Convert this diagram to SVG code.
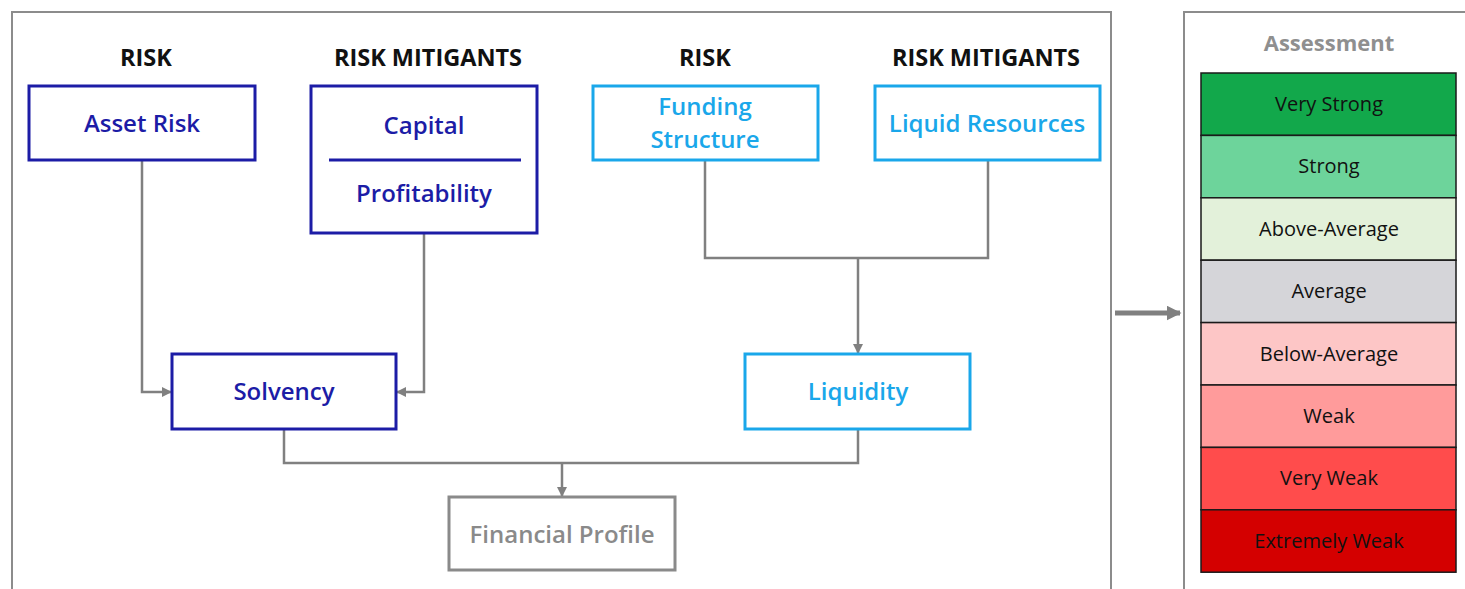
<svg xmlns="http://www.w3.org/2000/svg" width="1465" height="589" viewBox="0 0 1465 589">
  <style>
    text { font-family: "Open Sans", "Noto Sans", "Liberation Sans", sans-serif; text-anchor: middle; }
    .panel { fill: #ffffff; stroke: #8c8c8c; stroke-width: 2; }
    .hdr { font-size: 23.5px; font-weight: 700; fill: #111111; }
    .dark rect, .dark line { fill: #ffffff; stroke: #1c1ca6; stroke-width: 3; }
    .dark text { fill: #1c1ca6; font-size: 24px; font-weight: 600; }
    .light rect { fill: #ffffff; stroke: #1aa7ea; stroke-width: 3; }
    .light text { fill: #1aa7ea; font-size: 24px; font-weight: 600; }
    .grey rect { fill: #ffffff; stroke: #8a8a8a; stroke-width: 3; }
    .grey text { fill: #8a8a8a; font-size: 24px; font-weight: 600; }
    .wire { fill: none; stroke: #808080; stroke-width: 2.5; }
    .scale rect { stroke: #1a1a1a; stroke-width: 1.5; }
    .scale text { font-size: 20px; font-weight: 500; fill: #111111; }
  </style>
  <defs>
    <marker id="tip" viewBox="0 0 10 10" refX="9" refY="5" markerWidth="4" markerHeight="4" orient="auto" markerUnits="strokeWidth">
      <path d="M0,0 L10,5 L0,10 z" fill="#808080"/>
    </marker>
    <marker id="bigtip" viewBox="0 0 10 10" refX="9" refY="5" markerWidth="3" markerHeight="3" orient="auto" markerUnits="strokeWidth">
      <path d="M0,0 L10,5 L0,10 z" fill="#808080"/>
    </marker>
  </defs>

  <rect width="1465" height="589" fill="#ffffff"/>

  <!-- frames -->
  <rect class="panel" x="12" y="12" width="1099" height="590"/>
  <rect class="panel" x="1184" y="12" width="290" height="590"/>

  <!-- column headings -->
  <g id="headings">
    <text class="hdr" x="146" y="66">RISK</text>
    <text class="hdr" x="428" y="66">RISK MITIGANTS</text>
    <text class="hdr" x="705" y="66">RISK</text>
    <text class="hdr" x="986" y="66">RISK MITIGANTS</text>
  </g>

  <!-- connectors -->
  <g id="connectors">
    <polyline class="wire" points="142,161 142,392 171,392" marker-end="url(#tip)"/>
    <polyline class="wire" points="424,234 424,392 397,392" marker-end="url(#tip)"/>
    <polyline class="wire" points="705,161 705,258 988,258 988,161"/>
    <polyline class="wire" points="858,258 858,353" marker-end="url(#tip)"/>
    <polyline class="wire" points="284,430 284,463 858,463 858,430"/>
    <polyline class="wire" points="562,463 562,496" marker-end="url(#tip)"/>
    <line x1="1115" y1="313" x2="1180" y2="313" stroke="#808080" stroke-width="5" marker-end="url(#bigtip)"/>
  </g>

  <!-- solvency side -->
  <g id="asset-risk" class="dark">
    <rect x="29" y="86" width="226" height="74"/>
    <text x="142" y="132">Asset Risk</text>
  </g>
  <g id="capital-profitability" class="dark">
    <rect x="311" y="86" width="226" height="147"/>
    <line x1="329" y1="160" x2="521" y2="160"/>
    <text x="424" y="134">Capital</text>
    <text x="424" y="202">Profitability</text>
  </g>
  <g id="solvency" class="dark">
    <rect x="172" y="354" width="224" height="75"/>
    <text x="284" y="400">Solvency</text>
  </g>

  <!-- liquidity side -->
  <g id="funding-structure" class="light">
    <rect x="593" y="86" width="225" height="74"/>
    <text x="705" y="115">Funding</text>
    <text x="705" y="148">Structure</text>
  </g>
  <g id="liquid-resources" class="light">
    <rect x="875" y="86" width="225" height="74"/>
    <text x="987" y="132">Liquid Resources</text>
  </g>
  <g id="liquidity" class="light">
    <rect x="745" y="354" width="225" height="75"/>
    <text x="858" y="400">Liquidity</text>
  </g>

  <!-- result -->
  <g id="financial-profile" class="grey">
    <rect x="449" y="497" width="226" height="73"/>
    <text x="562" y="543">Financial Profile</text>
  </g>

  <!-- assessment scale -->
  <g id="assessment" class="scale">
    <text x="1329" y="51" style="font-size:22px;font-weight:700;fill:#8f8f8f">Assessment</text>
    <rect x="1201" y="73" width="255" height="62.4" fill="#12a84b"/>
    <rect x="1201" y="135.4" width="255" height="62.4" fill="#6dd49b"/>
    <rect x="1201" y="197.8" width="255" height="62.4" fill="#e3f1da"/>
    <rect x="1201" y="260.2" width="255" height="62.4" fill="#d5d5d9"/>
    <rect x="1201" y="322.6" width="255" height="62.4" fill="#fdc6c6"/>
    <rect x="1201" y="385" width="255" height="62.4" fill="#ff9b9b"/>
    <rect x="1201" y="447.4" width="255" height="62.4" fill="#ff4c4c"/>
    <rect x="1201" y="509.8" width="255" height="62.4" fill="#d40000"/>
    <text x="1329" y="111">Very Strong</text>
    <text x="1329" y="173">Strong</text>
    <text x="1329" y="236">Above-Average</text>
    <text x="1329" y="298">Average</text>
    <text x="1329" y="361">Below-Average</text>
    <text x="1329" y="423">Weak</text>
    <text x="1329" y="485">Very Weak</text>
    <text x="1329" y="548">Extremely Weak</text>
  </g>
</svg>
